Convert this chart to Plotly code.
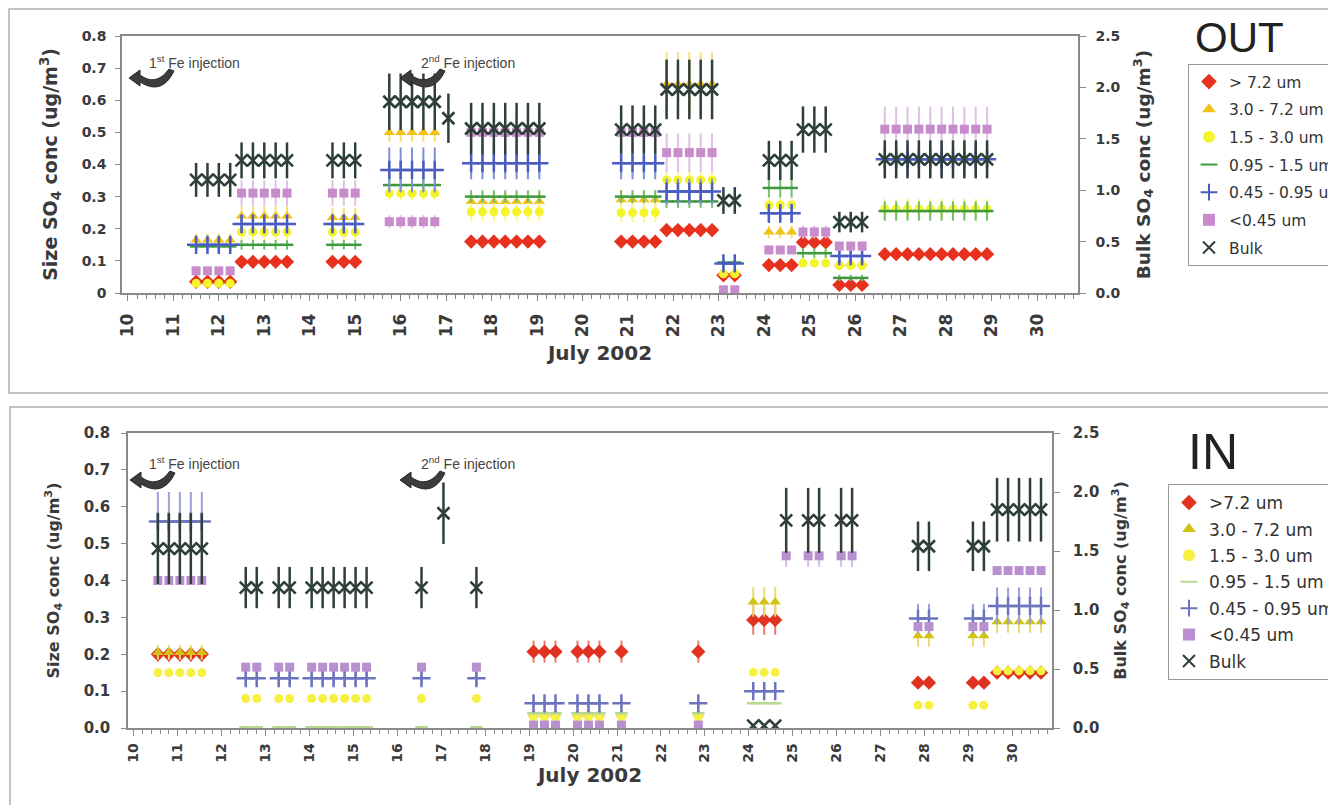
import plotly.graph_objects as go

W, H = 1336, 805
OFF = 8  # page body margin of the rendered html

# ---------------- DATA ----------------
# Sampling times (day of July 2002), grouped by sampling period
OUT_TIMES = [
    [11.5, 11.75, 12.0, 12.25],
    [12.5, 12.75, 13.0, 13.25, 13.5],
    [14.5, 14.75, 15.0],
    [15.75, 16.0, 16.25, 16.5, 16.75],
    [17.05],
    [17.55, 17.8, 18.05, 18.3, 18.55, 18.8, 19.05],
    [20.85, 21.1, 21.35, 21.6],
    [21.85, 22.1, 22.35, 22.6, 22.85],
    [23.1, 23.35],
    [24.1, 24.35, 24.6],
    [24.85, 25.1, 25.35],
    [25.65, 25.9, 26.15],
    [26.65, 26.9, 27.15, 27.4, 27.65, 27.9, 28.15, 28.4, 28.65, 28.9],
]
OUT_GT72 = [0.035, 0.097, 0.097, None, None, 0.16, 0.16, 0.196, 0.055, 0.087, 0.158, 0.025, 0.121]
OUT_GT72_ERR = [0.01, 0.012, 0.012, None, None, 0.02, 0.015, 0.02, 0.01, 0.01, 0.015, 0.01, 0.015]
OUT_30_72 = [0.165, 0.24, 0.235, 0.50, None, 0.285, 0.29, 0.65, 0.062, 0.19, None, 0.092, 0.262]
OUT_30_72_ERR = [0.02, 0.03, 0.03, 0.03, None, 0.03, 0.03, 0.10, 0.01, 0.02, None, 0.01, 0.03]
OUT_15_30 = [0.03, 0.19, 0.19, 0.31, None, 0.253, 0.25, 0.352, 0.06, 0.274, 0.093, 0.085, 0.262]
OUT_15_30_ERR = [0.01, 0.025, 0.025, 0.02, None, 0.03, 0.03, 0.03, 0.01, 0.02, 0.01, 0.01, 0.03]
OUT_095_15 = [0.145, 0.15, 0.15, 0.336, None, 0.30, 0.30, 0.285, 0.095, 0.327, 0.124, 0.047, 0.255]
OUT_095_15_ERR = [0.01, 0.015, 0.015, 0.02, None, 0.02, 0.02, 0.02, 0.01, 0.03, 0.015, 0.01, 0.03]
OUT_045_095 = [0.15, 0.215, 0.215, 0.383, None, 0.404, 0.404, 0.316, 0.092, 0.248, None, 0.115, 0.416]
OUT_045_095_ERR = [0.02, 0.03, 0.03, 0.07, None, 0.05, 0.05, 0.04, 0.01, 0.03, None, 0.02, 0.05]
OUT_LT045 = [0.069, 0.311, 0.311, 0.222, None, 0.50, 0.50, 0.437, 0.01, 0.134, 0.19, 0.146, 0.51]
OUT_LT045_ERR = [0.005, 0.04, 0.04, 0.02, None, 0.05, 0.05, 0.06, 0.005, 0.01, 0.02, 0.015, 0.07]
OUT_BULK = [1.10, 1.29, 1.29, 1.86, 1.70, 1.60, 1.59, 1.98, 0.90, 1.29, 1.59, 0.69, 1.30]
OUT_BULK_ERR = [0.165, 0.175, 0.175, 0.275, 0.24, 0.25, 0.235, 0.29, 0.13, 0.19, 0.225, 0.10, 0.185]

IN_TIMES = [
    [10.55, 10.8, 11.05, 11.3, 11.55],
    [12.55, 12.8],
    [13.3, 13.55],
    [14.05, 14.3, 14.55, 14.8, 15.05, 15.3],
    [16.55],
    [17.05],
    [17.8],
    [19.1, 19.35, 19.6],
    [20.1, 20.35, 20.6],
    [21.1],
    [22.85],
    [24.1, 24.35, 24.6],
    [24.85],
    [25.35, 25.6],
    [26.1, 26.35],
    [27.85, 28.1],
    [29.1, 29.35],
    [29.65, 29.9, 30.15, 30.4, 30.65],
]
IN_GT72 = [0.20, None, None, None, None, None, None, 0.207, 0.207, 0.207, 0.207, 0.293, None, None, None, 0.123, 0.123, 0.15]
IN_GT72_ERR = [0.02, None, None, None, None, None, None, 0.03, 0.03, 0.03, 0.03, 0.04, None, None, None, 0.01, 0.01, 0.01]
IN_30_72 = [0.205, None, None, None, None, None, None, 0.037, 0.037, 0.037, 0.037, 0.342, None, None, None, 0.25, 0.25, 0.288]
IN_30_72_ERR = [0.02, None, None, None, None, None, None, 0.01, 0.01, 0.01, 0.01, 0.04, None, None, None, 0.03, 0.03, 0.03]
IN_15_30 = [0.15, 0.08, 0.08, 0.08, 0.08, None, 0.08, 0.03, 0.03, 0.03, 0.03, 0.151, None, None, None, 0.062, 0.062, 0.155]
IN_15_30_ERR = [0.005, 0.005, 0.005, 0.005, 0.005, None, 0.005, 0.005, 0.005, 0.005, 0.005, 0.01, None, None, None, 0.005, 0.005, 0.01]
IN_095_15 = [None, 0.002, 0.002, 0.002, 0.002, None, 0.002, 0.04, 0.04, 0.04, 0.04, 0.067, None, None, None, None, None, None]
IN_095_15_ERR = [None, 0.005, 0.005, 0.005, 0.005, None, 0.005, 0.005, 0.005, 0.005, 0.005, 0.005, None, None, None, None, None, None]
IN_045_095 = [0.56, 0.135, 0.135, 0.135, 0.135, None, 0.135, 0.067, 0.067, 0.067, 0.067, 0.10, None, None, None, 0.297, 0.297, 0.331]
IN_045_095_ERR = [0.08, 0.02, 0.02, 0.02, 0.02, None, 0.02, 0.01, 0.01, 0.01, 0.01, 0.01, None, None, None, 0.04, 0.04, 0.05]
IN_LT045 = [0.40, 0.165, 0.165, 0.165, 0.165, None, 0.165, 0.008, 0.008, 0.008, 0.008, None, 0.467, 0.467, 0.467, 0.275, 0.275, 0.427]
IN_LT045_ERR = [0.005, 0.01, 0.01, 0.01, 0.01, None, 0.01, 0.005, 0.005, 0.005, 0.005, None, 0.03, 0.03, 0.03, 0.01, 0.01, 0.005]
IN_BULK = [1.52, 1.19, 1.19, 1.19, 1.19, 1.82, 1.19, None, None, None, None, 0.02, 1.76, 1.76, 1.76, 1.54, 1.54, 1.85]
IN_BULK_ERR = [0.30, 0.175, 0.175, 0.175, 0.175, 0.26, 0.175, None, None, None, None, 0.0, 0.275, 0.275, 0.275, 0.21, 0.21, 0.27]

OUT_NAMES = ["> 7.2 um", "3.0 - 7.2 um", "1.5 - 3.0 um", "0.95 - 1.5 um", "0.45 - 0.95 um", "<0.45 um", "Bulk"]
IN_NAMES = [">7.2 um", "3.0 - 7.2 um", "1.5 - 3.0 um", "0.95 - 1.5 um", "0.45 - 0.95 um", "<0.45 um", "Bulk"]
DAY_TICKS = list(range(10, 31))
SIZE_TICKS = [0, 0.1, 0.2, 0.3, 0.4, 0.5, 0.6, 0.7, 0.8]
BULK_TICKS = [0, 0.5, 1.0, 1.5, 2.0, 2.5]
TOP_SIZE_TEXT = ["0", "0.1", "0.2", "0.3", "0.4", "0.5", "0.6", "0.7", "0.8"]
BOT_SIZE_TEXT = ["0.0", "0.1", "0.2", "0.3", "0.4", "0.5", "0.6", "0.7", "0.8"]

# ---------------- HELPERS ----------------
FONT = "Liberation Sans, Arial, sans-serif"
BFONT = "DejaVu Sans, sans-serif"


def px(x):
    return (x - OFF) / W


def py(y):
    return 1 - (y - OFF) / H


def expand(times, vals, errs, gaps=False):
    xs, ys, es = [], [], []
    for i, grp in enumerate(times):
        v = vals[i]
        if v is None:
            continue
        e = errs[i] if errs[i] is not None else 0
        for t in grp:
            xs.append(t)
            ys.append(v)
            es.append(e)
        if gaps:
            xs.append(None)
            ys.append(None)
            es.append(None)
    return xs, ys, es


fig = go.Figure()

STYLE_OUT = [
    dict(color="#e8301e", err="#f08070", symbol="diamond", size=11, lw=0),
    dict(color="#f2c21a", err="#f8e070", symbol="triangle-up", size=10, lw=0),
    dict(color="#f4f42a", err="#f8f890", symbol="circle", size=9, lw=0),
    dict(color="#3c9a3c", err="#70c070", symbol="line-ew", size=9, lw=2.5),
    dict(color="#4a5cc0", err="#8090d8", symbol="cross-thin", size=13, lw=2.5),
    dict(color="#c88ccc", err="#e0c0e4", symbol="square", size=9, lw=0),
]
STYLE_IN = [
    dict(color="#e0321e", err="#ec7a6c", symbol="diamond", size=11, lw=0),
    dict(color="#d2c214", err="#e6dc70", symbol="triangle-up", size=10, lw=0),
    dict(color="#f6f040", err="#faf6a0", symbol="circle", size=9, lw=0),
    dict(color="#b8d890", err="#d6eac0", symbol="line-ew", size=9, lw=2.5),
    dict(color="#6c74c0", err="#9aa0d8", symbol="cross-thin", size=13, lw=2.5),
    dict(color="#b890d0", err="#d4bce4", symbol="square", size=9, lw=0),
]
BULK_COLOR = "#2e3f3a"


def add_panel(times, series, styles, bulk, bulk_err, names, xa, ya_left, ya_right, legend):
    for k, (vals, errs) in enumerate(series):
        st = styles[k]
        xs, ys, es = expand(times, vals, errs)
        mk = dict(symbol=st["symbol"], size=st["size"], color=st["color"])
        if st["lw"]:
            mk["line"] = dict(color=st["color"], width=st["lw"])
        if st["symbol"] == "cross-thin":
            lx, ly, _ = expand(times, vals, errs, gaps=True)
            fig.add_trace(go.Scatter(x=lx, y=ly, mode="lines", xaxis=xa, yaxis=ya_left,
                                     line=dict(color=st["color"], width=1.8),
                                     showlegend=False, hoverinfo="skip", connectgaps=False))
        fig.add_trace(go.Scatter(
            x=xs, y=ys, mode="markers", name=names[k], xaxis=xa, yaxis=ya_left,
            marker=mk, legend=legend, legendgroup=legend + str(k),
            error_y=dict(type="data", array=es, visible=True, color=st["err"], thickness=2, width=0),
        ))
    xs, ys, es = expand(times, bulk, bulk_err)
    fig.add_trace(go.Scatter(
        x=xs, y=ys, mode="markers", name=names[6], xaxis=xa, yaxis=ya_right,
        marker=dict(symbol="x-thin", size=12, color=BULK_COLOR, line=dict(color=BULK_COLOR, width=2.6)),
        legend=legend, legendgroup=legend + "6",
        error_y=dict(type="data", array=es, visible=True, color=BULK_COLOR, thickness=2.5, width=0),
    ))


add_panel(OUT_TIMES,
          [(OUT_GT72, OUT_GT72_ERR), (OUT_30_72, OUT_30_72_ERR), (OUT_15_30, OUT_15_30_ERR),
           (OUT_095_15, OUT_095_15_ERR), (OUT_045_095, OUT_045_095_ERR), (OUT_LT045, OUT_LT045_ERR)],
          STYLE_OUT, OUT_BULK, OUT_BULK_ERR, OUT_NAMES, "x", "y", "y2", "legend")
add_panel(IN_TIMES,
          [(IN_GT72, IN_GT72_ERR), (IN_30_72, IN_30_72_ERR), (IN_15_30, IN_15_30_ERR),
           (IN_095_15, IN_095_15_ERR), (IN_045_095, IN_045_095_ERR), (IN_LT045, IN_LT045_ERR)],
          STYLE_IN, IN_BULK, IN_BULK_ERR, IN_NAMES, "x2", "y3", "y4", "legend2")

AX = "#8a8a8a"
TXT = "#3a3a3a"


def xaxis_cfg(domain, anchor, tsize, lstand, tstand):
    return dict(domain=domain, anchor=anchor, range=[9.87, 30.9],
                tickmode="array", tickvals=DAY_TICKS, tickangle=-90,
                ticks="outside", ticklen=6, tickcolor=AX, showline=True, linecolor=AX, linewidth=1.5,
                mirror=True, showgrid=False, zeroline=False, automargin=False,
                tickfont=dict(family=BFONT, size=tsize, color=TXT, weight="bold"), ticklabelstandoff=lstand,
                minor=dict(tick0=10, dtick=0.2, ticks="outside", ticklen=4, tickcolor=AX),
                title=dict(text="July 2002", font=dict(family=BFONT, size=20, color=TXT, weight="bold"),
                           standoff=tstand))


def yleft_cfg(domain, anchor, ticktext, tsize, titsize, lstand, tstand):
    return dict(domain=domain, anchor=anchor, range=[0, 0.8], tickvals=SIZE_TICKS, ticktext=ticktext,
                ticks="outside", ticklen=5, tickcolor=AX, showline=True, linecolor=AX, linewidth=1.5,
                showgrid=False, zeroline=False, automargin=False, ticklabelstandoff=lstand,
                tickfont=dict(family=BFONT, size=tsize, color=TXT, weight="bold"),
                title=dict(text="Size SO<sub>4</sub> conc (ug/m<sup>3</sup>)",
                           font=dict(family=BFONT, size=titsize, color=TXT, weight="bold"), standoff=tstand))


def yright_cfg(over, anchor, tsize, titsize, lstand, tstand):
    return dict(overlaying=over, side="right", anchor=anchor, range=[0, 2.5], tickvals=BULK_TICKS,
                tickformat=".1f", ticks="outside", ticklen=6, tickcolor=AX, showline=True, linecolor=AX,
                linewidth=1.5, showgrid=False, zeroline=False, automargin=False, ticklabelstandoff=lstand,
                tickfont=dict(family=BFONT, size=tsize, color=TXT, weight="bold"),
                title=dict(text="Bulk SO<sub>4</sub> conc (ug/m<sup>3</sup>)",
                           font=dict(family=BFONT, size=titsize, color=TXT, weight="bold"), standoff=tstand))


def curved_arrow(x0, y0):
    path = "M {} {} L {} {} L {} {} ".format(px(x0 + 0), py(y0 + 8), px(x0 + 11), py(y0 + 0), px(x0 + 11), py(y0 + 5))
    path += "Q {} {} {} {} ".format(px(x0 + 27), py(y0 + 17), px(x0 + 40), py(y0 - 1))
    path += "L {} {} ".format(px(x0 + 45), py(y0 + 1))
    path += "Q {} {} {} {} ".format(px(x0 + 33), py(y0 + 26), px(x0 + 11), py(y0 + 12))
    path += "L {} {} Z".format(px(x0 + 11), py(y0 + 16))
    return dict(type="path", path=path, xref="paper", yref="paper", fillcolor="#3c3c3c",
                line=dict(color="#2a2a2a", width=1))


shapes = [
    dict(type="rect", xref="paper", yref="paper", x0=px(9), x1=1.02, y0=py(393), y1=py(9),
         line=dict(color="#b0b0b0", width=1.5), fillcolor="rgba(0,0,0,0)", layer="below"),
    dict(type="rect", xref="paper", yref="paper", x0=px(10), x1=1.02, y0=-0.02, y1=py(407),
         line=dict(color="#b0b0b0", width=1.5), fillcolor="rgba(0,0,0,0)", layer="below"),
    curved_arrow(129, 70),
    curved_arrow(400, 70),
    curved_arrow(130, 472),
    curved_arrow(400, 472),
]

ann_font = dict(family=FONT, size=14, color="#444")
annotations = [
    dict(text="1<sup>st</sup> Fe injection", x=px(147), y=py(62), xref="paper", yref="paper",
         xanchor="left", yanchor="middle", showarrow=False, font=ann_font),
    dict(text="2<sup>nd</sup> Fe injection", x=px(419), y=py(62), xref="paper", yref="paper",
         xanchor="left", yanchor="middle", showarrow=False, font=ann_font),
    dict(text="1<sup>st</sup> Fe injection", x=px(147), y=py(463), xref="paper", yref="paper",
         xanchor="left", yanchor="middle", showarrow=False, font=ann_font),
    dict(text="2<sup>nd</sup> Fe injection", x=px(419), y=py(463), xref="paper", yref="paper",
         xanchor="left", yanchor="middle", showarrow=False, font=ann_font),
    dict(text="OUT", x=px(1193), y=py(37), xref="paper", yref="paper", xanchor="left", yanchor="middle",
         showarrow=False, font=dict(family=FONT, size=42, color="#222")),
    dict(text="IN", x=px(1186), y=py(452), xref="paper", yref="paper", xanchor="left", yanchor="middle",
         showarrow=False, font=dict(family=FONT, size=50, color="#222")),
]

fig.update_layout(
    width=W, height=H, margin=dict(l=0, r=0, t=0, b=0, autoexpand=False),
    paper_bgcolor="white", plot_bgcolor="white",
    xaxis=xaxis_cfg([px(122), px(1078)], "y", 17, 6, 10),
    yaxis=yleft_cfg([py(293), py(36)], "x", TOP_SIZE_TEXT, 14, 19, 6, 19),
    yaxis2=yright_cfg("y", "x", 14, 18.5, 7, 17),
    xaxis2=xaxis_cfg([px(128), px(1052)], "y3", 14, 2, 4),
    yaxis3=yleft_cfg([py(728), py(433)], "x2", BOT_SIZE_TEXT, 15, 16, 8, 20),
    yaxis4=yright_cfg("y3", "x2", 15, 16, 10, 16),
    legend=dict(x=px(1188), y=py(64), xanchor="left", yanchor="top", bgcolor="white",
                bordercolor="#999", borderwidth=1, font=dict(family=BFONT, size=15.5, color="#333"),
                traceorder="grouped", tracegroupgap=4.5, itemsizing="constant", itemwidth=30),
    legend2=dict(x=px(1168), y=py(484), xanchor="left", yanchor="top", bgcolor="white",
                 bordercolor="#999", borderwidth=1, font=dict(family=BFONT, size=17, color="#333"),
                 traceorder="grouped", tracegroupgap=1.3, itemsizing="constant", itemwidth=30),
    shapes=shapes, annotations=annotations,
    font=dict(family=FONT),
)

fig.write_html("out.html")
